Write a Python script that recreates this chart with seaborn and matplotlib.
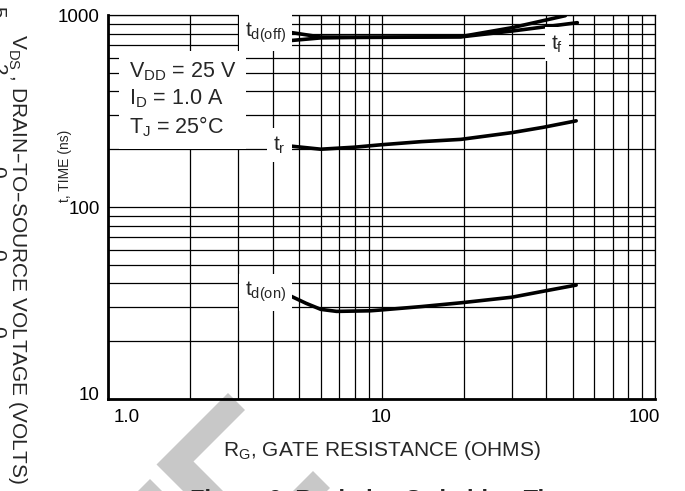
import pandas as pd
import seaborn as sns
import matplotlib
matplotlib.use('Agg')
import matplotlib.pyplot as plt
import matplotlib.transforms as mtransforms
from matplotlib.patches import Polygon
from matplotlib.ticker import LogLocator, FixedLocator, FixedFormatter, NullFormatter

# curves (RG in ohms, t in ns)
rg_doff = [4.6, 6.0, 8.0, 10, 14, 19.5, 30, 47]
t_doff = [813, 768, 766, 767, 769, 772, 859, 992]
rg_f = [4.6, 6.0, 8.0, 10, 14, 19.5, 30, 52]
t_f = [735, 760, 764, 765, 767, 769, 825, 912]
rg_r = [4.6, 6.0, 8.0, 10, 14, 19.5, 30, 39, 51.5]
t_r = [208, 200, 205, 211, 219, 225, 244, 260, 281]
rg_don = [4.65, 5.3, 6.0, 6.85, 9.1, 10, 14, 19.5, 30, 39, 51.5]
t_don = [34.4, 31.5, 29.3, 28.6, 28.8, 29.1, 30.3, 31.7, 33.9, 36.4, 39.2]

x_ticks = [1, 10, 100]
x_ticklabels = ['1.0', '10', '100']
y_ticks = [10, 100, 1000]
y_ticklabels = ['10', '100', '1000']

conditions = [r'$\mathregular{V_{DD}}$ = 25 V',
              r'$\mathregular{I_{D}}$ = 1.0 A',
              r'$\mathregular{T_{J}}$ = 25°C']

sns.set_style('white')
plt.rcParams['font.family'] = ['Liberation Sans', 'DejaVu Sans']

fig = plt.figure(figsize=(6.85, 4.91), dpi=100)
W, H = 685, 491

def px(x, y):
    return (x / W, 1 - y / H)

# grey watermark fragments behind everything
wm = '#c8c8c8'
for pts in [
    [(228, 393), (245, 410), (193.5, 461.5), (236, 504), (216, 524), (156.5, 464.5)],
    [(150, 479), (175, 504), (150, 529), (125, 504)],
    [(313, 471), (330, 488), (300, 518), (283, 501)],
]:
    fig.patches.append(Polygon([px(*p) for p in pts], closed=True, transform=fig.transFigure,
                               facecolor=wm, edgecolor='none', zorder=-1))

ax = fig.add_axes([108 / W, 1 - 399 / H, (655 - 108) / W, (399 - 15) / H])
ax.set_facecolor('none')

lw = 2.6
sns.lineplot(x=rg_doff, y=t_doff, ax=ax, color='black', lw=lw, solid_joinstyle='round')
sns.lineplot(x=rg_f, y=t_f, ax=ax, color='black', lw=lw, solid_joinstyle='round')
sns.lineplot(x=rg_r, y=t_r, ax=ax, color='black', lw=lw, solid_joinstyle='round')
sns.lineplot(x=rg_don, y=t_don, ax=ax, color='black', lw=lw, solid_joinstyle='round')

ax.set_xscale('log')
ax.set_yscale('log')
ax.set_xlim(1, 100)
ax.set_ylim(10, 1000)

for axis, ticks, labels in [(ax.xaxis, x_ticks, x_ticklabels), (ax.yaxis, y_ticks, y_ticklabels)]:
    axis.set_major_locator(FixedLocator(ticks))
    axis.set_major_formatter(FixedFormatter(labels))
    axis.set_minor_locator(LogLocator(base=10, subs=range(2, 10)))
    axis.set_minor_formatter(NullFormatter())

ax.grid(which='both', color='black', lw=0.9)
ax.tick_params(which='both', length=0, labelsize=13.5, colors='black')
ax.tick_params(axis='x', pad=7)
ax.tick_params(axis='y', pad=6)
for side in ['left', 'bottom']:
    ax.spines[side].set_linewidth(2.0)
for side in ['right', 'top']:
    ax.spines[side].set_linewidth(0.9)
for s in ax.spines.values():
    s.set_color('black')
    s.set_visible(True)

# nudge end tick labels the way the datasheet has them
fig.canvas.draw()
xl = ax.get_xticklabels()
xl[0].set_transform(xl[0].get_transform() + mtransforms.ScaledTranslation(19 / 100, 0, fig.dpi_scale_trans))
xl[-1].set_transform(xl[-1].get_transform() + mtransforms.ScaledTranslation(-11 / 100, 0, fig.dpi_scale_trans))
yl = ax.get_yticklabels()
yl[0].set_transform(yl[0].get_transform() + mtransforms.ScaledTranslation(0, 6 / 100, fig.dpi_scale_trans))

ax.set_xlabel(r'$\mathregular{R_{G}}$, GATE RESISTANCE (OHMS)', fontsize=15, va='center')
ax.xaxis.set_label_coords(0.5, -0.133)
ax.set_ylabel('t, TIME (ns)', fontsize=10, va='center')
ax.yaxis.set_label_coords(-0.078, 0.607)

box = dict(boxstyle='square,pad=0.3', fc='white', ec='none')
ax.text(4.48, 806, r'$\mathregular{t_{d(off)}}$', fontsize=15, ha='right', va='center', bbox=box)
ax.text(43.8, 706, r'$\mathregular{t_{f}}$', fontsize=15, ha='center', va='center', bbox=box)
ax.text(4.48, 210, r'$\mathregular{t_{r}}$', fontsize=15, ha='right', va='center', bbox=box)
ax.text(4.48, 36, r'$\mathregular{t_{d(on)}}$', fontsize=15, ha='right', va='center', bbox=box)

ax.text(1.193, 362, '\n'.join(conditions), fontsize=15.5, ha='left', va='center', linespacing=1.25,
        bbox=dict(boxstyle='square,pad=0.45', fc='white', ec='none'))

# pieces of the neighbouring figure left in the crop
fig.text(*px(17, 259), r'$\mathregular{V_{DS}}$ , DRAIN–TO–SOURCE VOLTAGE (VOLTS)',
         rotation=-90, ha='center', va='center', fontsize=15)
for ch, yy in zip(['5', '2', '0', '0', '0'], [12, 70, 172, 255, 332]):
    fig.text(*px(-3, yy), ch, rotation=-90, ha='center', va='center', fontsize=15)

fig.text(*px(384, 489.5), 'Figure 9. Resistive Switching Time\nVariation versus Gate Resistance',
         ha='center', va='top', fontsize=17, weight='bold')

fig.savefig('out.png', dpi=100)
